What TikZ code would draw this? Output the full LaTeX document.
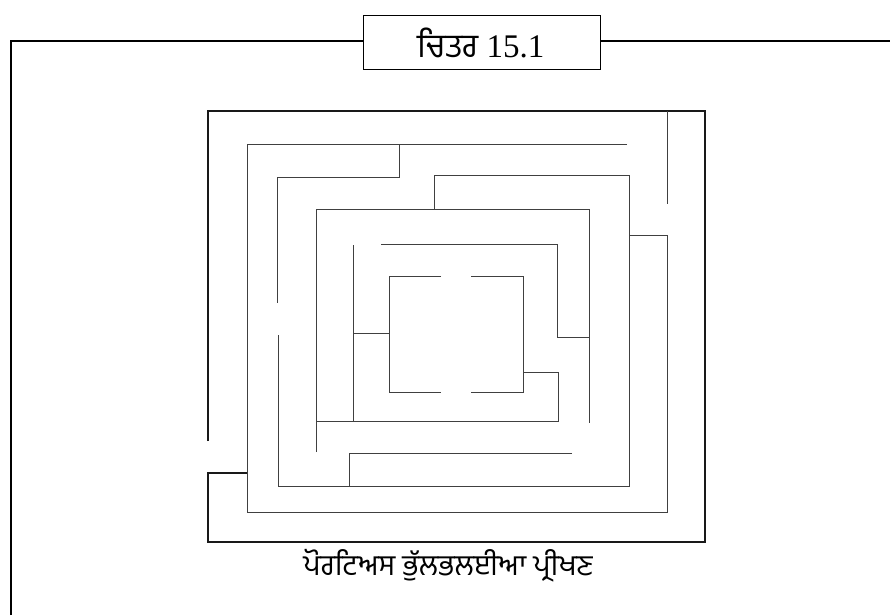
\documentclass[tikz,border=0pt]{standalone}
\usepackage{fontspec}
\setmainfont{Liberation Serif}
\newfontfamily\gurmukhi[Script=Gurmukhi]{Hind Jalandhar}
\begin{document}
\begin{tikzpicture}[
  x=1pt, y=-1pt,
  wall/.style={draw=black!75, line width=1pt},
  outer/.style={draw=black!90, line width=1.4pt},
  frame/.style={draw=black, line width=1.2pt},
  every node/.style={inner sep=0pt}
]
  \useasboundingbox (0,0) rectangle (890,615);

  % frame and title
  \draw[frame] (11,615) -- (11,41) -- (363,41);
  \draw[frame] (600,41) -- (890,41);
  \node[frame, minimum width=237pt, minimum height=54pt, anchor=north west] (title) at (363,15) {};
  \node (titletext) at (481,43) {\fontsize{33}{36}\selectfont{\gurmukhi ਚਿਤਰ} 15.1};

  % outer wall
  \draw[outer] (208,441) -- (208,111) -- (705,111) -- (705,542) -- (208,542) -- (208,473) -- (247,473);
  \draw[wall] (667,111) -- (667,204);

  % second ring
  \draw[wall] (627,144) -- (247,144) -- (247,512) -- (667,512) -- (667,235) -- (629,235);
  \draw[wall] (399,144) -- (399,177) -- (277,177) -- (277,303);

  % third ring
  \draw[wall] (434,209) -- (434,175) -- (629,175) -- (629,486) -- (278,486) -- (278,335);
  \draw[wall] (572,453) -- (349,453) -- (349,486);

  % fourth ring
  \draw[wall] (316,452) -- (316,209) -- (589,209) -- (589,423);
  \draw[wall] (381,244) -- (557,244) -- (557,337) -- (589,337);
  \draw[wall] (316,421) -- (558,421) -- (558,372) -- (523,372);

  % centre
  \draw[wall] (353,245) -- (353,421);
  \draw[wall] (353,333) -- (389,333);
  \draw[wall] (441,276) -- (389,276) -- (389,392) -- (441,392);
  \draw[wall] (471,276) -- (523,276) -- (523,392) -- (471,392);

  % caption
  \node (caption) at (448,566) {\fontsize{29}{32}\selectfont\gurmukhi ਪੋਰਟਿਅਸ ਭੁੱਲਭਲਈਆ ਪ੍ਰੀਖਣ};
\end{tikzpicture}
\end{document}
